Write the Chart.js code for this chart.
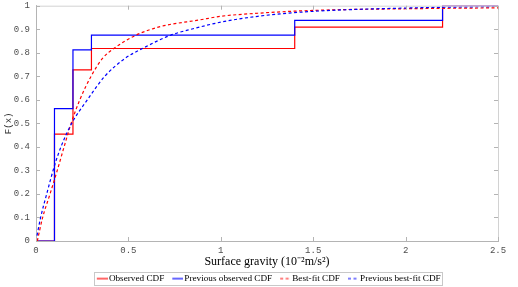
<!DOCTYPE html>
<html>
<head>
<meta charset="utf-8">
<script src="https://cdn.jsdelivr.net/npm/chart.js@4.4.1/dist/chart.umd.min.js"></script>
<style>
  html, body { margin: 0; padding: 0; background: #fff; }
  #wrap { width: 518px; height: 287px; }
</style>
</head>
<body>
<div id="wrap"><canvas id="cdfChart" width="518" height="287"></canvas></div>
<script>
// series names (legend order)
const seriesNames = ['Observed CDF', 'Previous observed CDF', 'Best-fit CDF', 'Previous best-fit CDF'];

// empirical CDFs: jump points (surface gravity, 10^-2 m/s^2)
const obsX = [0, 0.1, 0.2, 0.3, 1.4, 2.2, 2.5];
const obsF = [0, 0.4545, 0.7273, 0.8182, 0.9091, 1, 1];
const prevObsF = [0, 0.5625, 0.8125, 0.875, 0.9375, 1, 1];

// fitted CDFs
const fitX = [0.007, 0.036, 0.076, 0.115, 0.152, 0.19, 0.237, 0.298, 0.36, 0.425, 0.542, 0.672, 0.888, 1.0, 1.2, 1.5, 2.0, 2.5];
const fitF = [0, 0.1, 0.2, 0.3, 0.4, 0.5, 0.6, 0.7, 0.776, 0.82, 0.875, 0.911, 0.94, 0.955, 0.968, 0.98, 0.987, 0.991];
const prevFitX = [0, 0.025, 0.058, 0.1, 0.135, 0.193, 0.278, 0.372, 0.482, 0.578, 0.73, 0.85, 1.0, 1.2, 1.5, 2.0, 2.5];
const prevFitF = [0, 0.1, 0.2, 0.32, 0.4, 0.5, 0.6, 0.7, 0.776, 0.819, 0.875, 0.902, 0.93, 0.955, 0.976, 0.99, 0.997];

// axis ticks
const xTickStep = 0.5;
const yTickStep = 0.1;

const RED = '#ff0000';
const BLUE = '#0000ff';
const toPoints = (xs, ys) => xs.map((x, i) => ({ x, y: ys[i] }));
const tickText = v => String(Number(v.toFixed(1)));

// little line sample for the legend (line sits right of the box centre)
const legendSample = (color, dash) => {
    const c = document.createElement('canvas');
    c.width = 18;
    c.height = 6;
    const ctx = c.getContext('2d');
    ctx.strokeStyle = color;
    ctx.lineWidth = 1.2;
    ctx.setLineDash(dash || []);
    ctx.beginPath();
    ctx.moveTo(7, 3);
    ctx.lineTo(18, 3);
    ctx.stroke();
    return c;
};

const frame = {
    id: 'frame',
    afterDatasetsDraw(chart) {
        const { ctx, chartArea: a, scales } = chart;
        ctx.save();
        ctx.lineWidth = 1;
        ctx.strokeStyle = '#d2d2d2';
        ctx.beginPath();
        ctx.moveTo(a.left, a.top + 0.5);
        ctx.lineTo(a.right + 0.5, a.top + 0.5);
        ctx.lineTo(a.right + 0.5, a.bottom);
        ctx.stroke();
        // inward ticks, MATLAB style
        ctx.strokeStyle = '#b4b4b4';
        ctx.beginPath();
        scales.x.ticks.forEach(t => {
            const px = Math.round(scales.x.getPixelForValue(t.value)) + 0.5;
            ctx.moveTo(px, a.bottom); ctx.lineTo(px, a.bottom - 4);
            ctx.moveTo(px, a.top); ctx.lineTo(px, a.top + 4);
        });
        scales.y.ticks.forEach(t => {
            const py = Math.round(scales.y.getPixelForValue(t.value)) + 0.5;
            ctx.moveTo(a.left, py); ctx.lineTo(a.left + 4, py);
            ctx.moveTo(a.right, py); ctx.lineTo(a.right - 4, py);
        });
        ctx.stroke();
        ctx.restore();
    },
    afterDraw(chart) {
        const boxes = chart.legend.legendHitBoxes;
        if (!boxes || !boxes.length) return;
        const left = Math.min(...boxes.map(b => b.left)) + 1;
        const right = Math.max(...boxes.map(b => b.left + b.width)) + 2;
        const cy = boxes[0].top + boxes[0].height / 2;
        const { ctx } = chart;
        ctx.save();
        ctx.strokeStyle = '#c8c8c8';
        ctx.lineWidth = 1;
        ctx.strokeRect(Math.round(left) + 0.5, Math.round(cy - 7) + 0.5, Math.round(right - left), 13);
        ctx.restore();
    }
};

const datasets = [
    { label: seriesNames[0], data: toPoints(obsX, obsF), borderColor: RED, stepped: 'before', order: 3 },
    { label: seriesNames[1], data: toPoints(obsX, prevObsF), borderColor: BLUE, stepped: 'before', order: 2 },
    { label: seriesNames[2], data: toPoints(fitX, fitF), borderColor: RED, borderDash: [3, 2.5], cubicInterpolationMode: 'monotone', order: 1 },
    { label: seriesNames[3], data: toPoints(prevFitX, prevFitF), borderColor: BLUE, borderDash: [3, 2.5], cubicInterpolationMode: 'monotone', order: 0 }
].map(d => Object.assign({ borderWidth: 1.2, pointRadius: 0, fill: false }, d));

new Chart(document.getElementById('cdfChart'), {
    type: 'line',
    data: { datasets },
    options: {
        responsive: false,
        animation: false,
        layout: { padding: { top: 0, right: 20, bottom: 0, left: 0 } },
        plugins: {
            tooltip: { enabled: false },
            legend: {
                position: 'bottom',
                fullSize: false,
                maxHeight: 17.5,
                labels: {
                    usePointStyle: true,
                    pointStyleWidth: 11,
                    padding: 4.5,
                    color: '#000',
                    font: { family: 'Liberation Serif', size: 9.2 },
                    generateLabels(chart) {
                        return chart.data.datasets.map((ds, i) => ({
                            text: ds.label,
                            pointStyle: legendSample(ds.borderColor, ds.borderDash),
                            fontColor: '#000',
                            strokeStyle: ds.borderColor,
                            fillStyle: ds.borderColor,
                            lineWidth: 0,
                            hidden: false,
                            datasetIndex: i
                        }));
                    }
                }
            }
        },
        scales: {
            x: {
                type: 'linear',
                min: 0,
                max: 2.5,
                grid: { display: false, drawTicks: false },
                border: { color: '#b4b4b4' },
                ticks: { stepSize: xTickStep, padding: 4, color: '#4d4d4d', font: { family: 'Liberation Mono', size: 9 }, maxRotation: 0, callback: tickText },
                title: {
                    display: true,
                    text: 'Surface gravity (10\u207B\u00B2m/s\u00B2)',
                    color: '#000',
                    font: { family: 'Liberation Serif', size: 12 },
                    padding: { top: 0, bottom: 0.5 }
                },
                afterFit(scale) { scale.height = 28.5; }
            },
            y: {
                min: 0,
                max: 1,
                grid: { display: false, drawTicks: false },
                border: { color: '#b4b4b4' },
                ticks: { stepSize: yTickStep, padding: 6, color: '#4d4d4d', font: { family: 'Liberation Mono', size: 9 }, callback: tickText },
                title: {
                    display: true,
                    text: 'F(x)',
                    color: '#333',
                    font: { family: 'Liberation Mono', size: 9 },
                    padding: { top: 3, bottom: 0 }
                },
                afterFit(scale) {
                    scale.width = 36;
                    scale.paddingTop = 5.7;
                    scale.paddingBottom = 0;
                }
            }
        }
    },
    plugins: [frame]
});
</script>
</body>
</html>
